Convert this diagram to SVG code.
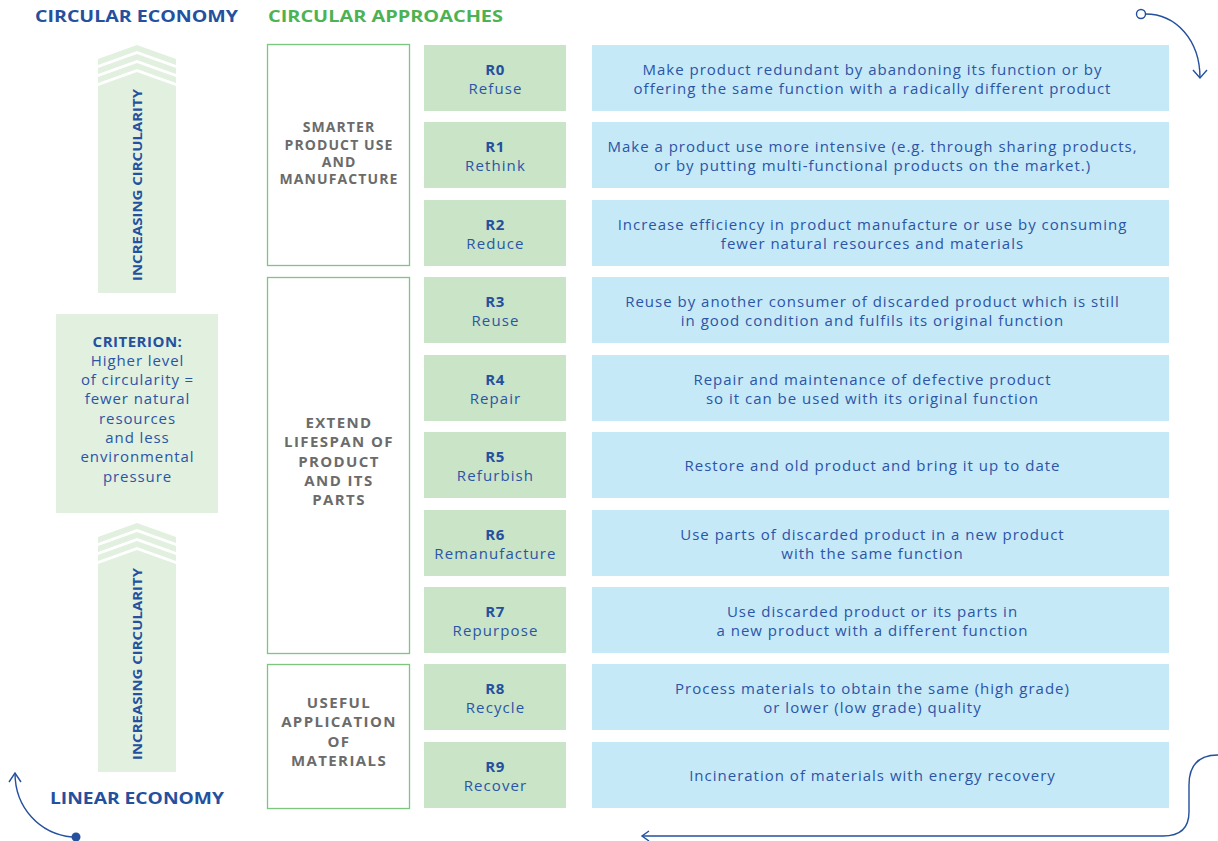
<svg xmlns="http://www.w3.org/2000/svg" width="1218" height="841" viewBox="0 0 1218 841">
<style>
.hd{font-family:"Open Sans","Liberation Sans",sans-serif;font-weight:700;font-size:16.5px}
.blue{fill:#24509e}
.green{fill:#4db352}
.vt{font-family:"Open Sans","Liberation Sans",sans-serif;font-weight:700;font-size:13px;fill:#24509e}
.chev{fill:#e1f0df}
.crit{font-family:"Open Sans","Liberation Sans",sans-serif;font-size:15px;letter-spacing:0.9px;fill:#2b55a6;text-anchor:middle}
.cat{fill:#fff;stroke:#7cc77e;stroke-width:1.3}
.catt{font-family:"Open Sans","Liberation Sans",sans-serif;font-weight:700;font-size:14px;letter-spacing:1.1px;fill:#6b6b6b;text-anchor:middle}
.catl{font-size:15px;letter-spacing:1.4px}
.rbox{fill:#c9e4c7}
.rid{font-family:"Open Sans","Liberation Sans",sans-serif;font-weight:700;font-size:15px;letter-spacing:0.5px;fill:#24509e;text-anchor:middle}
.rnm{font-family:"Open Sans","Liberation Sans",sans-serif;font-size:15px;letter-spacing:1.1px;fill:#2b55a6;text-anchor:middle}
.dbox{fill:#c6e9f8}
.dt{font-family:"Open Sans","Liberation Sans",sans-serif;font-size:15px;letter-spacing:1px;fill:#2b55a6;text-anchor:middle}
.conn{fill:none;stroke:#24509e;stroke-width:1.4}
</style>

<!-- headers -->
<g id="header-circular-economy"><text class="hd blue" x="35" y="22" textLength="203" lengthAdjust="spacingAndGlyphs">CIRCULAR ECONOMY</text></g>
<g id="header-circular-approaches"><text class="hd green" x="268" y="22" textLength="235" lengthAdjust="spacingAndGlyphs">CIRCULAR APPROACHES</text></g>
<g id="header-linear-economy"><text class="hd blue" x="50" y="804" textLength="174" lengthAdjust="spacingAndGlyphs">LINEAR ECONOMY</text></g>

<!-- top increasing arrow -->
<g id="arrow-top">
<polygon class="chev" points="98,59 137,45 176,59 176,65 137,51 98,65"/>
<polygon class="chev" points="98,68 137,54 176,68 176,74 137,60 98,74"/>
<polygon class="chev" points="98,77 137,63 176,77 176,83 137,69 98,83"/>
<polygon class="chev" points="98,86 137,72 176,86 176,293 98,293"/>
<text class="vt" transform="translate(142,185) rotate(-90)" text-anchor="middle" textLength="192" lengthAdjust="spacingAndGlyphs">INCREASING CIRCULARITY</text>
</g>

<!-- bottom increasing arrow -->
<g id="arrow-bottom">
<polygon class="chev" points="98,537 137,523 176,537 176,543 137,529 98,543"/>
<polygon class="chev" points="98,546 137,532 176,546 176,552 137,538 98,552"/>
<polygon class="chev" points="98,555 137,541 176,555 176,561 137,547 98,561"/>
<polygon class="chev" points="98,564 137,550 176,564 176,772 98,772"/>
<text class="vt" transform="translate(142,664) rotate(-90)" text-anchor="middle" textLength="192" lengthAdjust="spacingAndGlyphs">INCREASING CIRCULARITY</text>
</g>

<!-- criterion -->
<g id="criterion">
<rect class="chev" x="56" y="314" width="162" height="199"/>
<text class="crit" x="137.5" y="347" style="font-weight:700;fill:#24509e;letter-spacing:0.5px">CRITERION:</text>
<text class="crit" x="137.5" y="366">Higher level</text>
<text class="crit" x="137.5" y="385">of circularity =</text>
<text class="crit" x="137.5" y="404">fewer natural</text>
<text class="crit" x="137.5" y="424">resources</text>
<text class="crit" x="137.5" y="443">and less</text>
<text class="crit" x="137.5" y="462">environmental</text>
<text class="crit" x="137.5" y="482">pressure</text>
</g>

<!-- categories -->
<g id="cat-smarter">
<rect class="cat" x="267.5" y="44.5" width="142" height="221"/>
<text class="catt" x="339" y="132">SMARTER</text>
<text class="catt" x="339" y="150">PRODUCT USE</text>
<text class="catt" x="339" y="167">AND</text>
<text class="catt" x="339" y="184">MANUFACTURE</text>
</g>
<g id="cat-extend">
<rect class="cat" x="267.5" y="277.5" width="142" height="376"/>
<text class="catt catl" x="339" y="428">EXTEND</text>
<text class="catt catl" x="339" y="447">LIFESPAN OF</text>
<text class="catt catl" x="339" y="467">PRODUCT</text>
<text class="catt catl" x="339" y="486">AND ITS</text>
<text class="catt catl" x="339" y="505">PARTS</text>
</g>
<g id="cat-useful">
<rect class="cat" x="267.5" y="664.5" width="142" height="144"/>
<text class="catt catl" x="339" y="708">USEFUL</text>
<text class="catt catl" x="339" y="727">APPLICATION</text>
<text class="catt catl" x="339" y="747">OF</text>
<text class="catt catl" x="339" y="766">MATERIALS</text>
</g>

<!-- R rows -->
<g id="r0"><rect class="rbox" x="424" y="45" width="142" height="66"/><text class="rid" x="495" y="75">R0</text><text class="rnm" x="495.5" y="94">Refuse</text>
<rect class="dbox" x="592" y="45" width="577" height="66"/><text class="dt" x="872.5" y="75">Make product redundant by abandoning its function or by</text><text class="dt" x="872.5" y="94">offering the same function with a radically different product</text></g>
<g id="r1"><rect class="rbox" x="424" y="122" width="142" height="66"/><text class="rid" x="495" y="152">R1</text><text class="rnm" x="495.5" y="171">Rethink</text>
<rect class="dbox" x="592" y="122" width="577" height="66"/><text class="dt" x="872.5" y="152">Make a product use more intensive (e.g. through sharing products,</text><text class="dt" x="872.5" y="171">or by putting multi-functional products on the market.)</text></g>
<g id="r2"><rect class="rbox" x="424" y="200" width="142" height="66"/><text class="rid" x="495" y="230">R2</text><text class="rnm" x="495.5" y="249">Reduce</text>
<rect class="dbox" x="592" y="200" width="577" height="66"/><text class="dt" x="872.5" y="230">Increase efficiency in product manufacture or use by consuming</text><text class="dt" x="872.5" y="249">fewer natural resources and materials</text></g>
<g id="r3"><rect class="rbox" x="424" y="277" width="142" height="66"/><text class="rid" x="495" y="307">R3</text><text class="rnm" x="495.5" y="326">Reuse</text>
<rect class="dbox" x="592" y="277" width="577" height="66"/><text class="dt" x="872.5" y="307">Reuse by another consumer of discarded product which is still</text><text class="dt" x="872.5" y="326">in good condition and fulfils its original function</text></g>
<g id="r4"><rect class="rbox" x="424" y="355" width="142" height="66"/><text class="rid" x="495" y="385">R4</text><text class="rnm" x="495.5" y="404">Repair</text>
<rect class="dbox" x="592" y="355" width="577" height="66"/><text class="dt" x="872.5" y="385">Repair and maintenance of defective product</text><text class="dt" x="872.5" y="404">so it can be used with its original function</text></g>
<g id="r5"><rect class="rbox" x="424" y="432" width="142" height="66"/><text class="rid" x="495" y="462">R5</text><text class="rnm" x="495.5" y="481">Refurbish</text>
<rect class="dbox" x="592" y="432" width="577" height="66"/><text class="dt" x="872.5" y="471">Restore and old product and bring it up to date</text></g>
<g id="r6"><rect class="rbox" x="424" y="510" width="142" height="66"/><text class="rid" x="495" y="540">R6</text><text class="rnm" x="495.5" y="559">Remanufacture</text>
<rect class="dbox" x="592" y="510" width="577" height="66"/><text class="dt" x="872.5" y="540">Use parts of discarded product in a new product</text><text class="dt" x="872.5" y="559">with the same function</text></g>
<g id="r7"><rect class="rbox" x="424" y="587" width="142" height="66"/><text class="rid" x="495" y="617">R7</text><text class="rnm" x="495.5" y="636">Repurpose</text>
<rect class="dbox" x="592" y="587" width="577" height="66"/><text class="dt" x="872.5" y="617">Use discarded product or its parts in</text><text class="dt" x="872.5" y="636">a new product with a different function</text></g>
<g id="r8"><rect class="rbox" x="424" y="664" width="142" height="66"/><text class="rid" x="495" y="694">R8</text><text class="rnm" x="495.5" y="713">Recycle</text>
<rect class="dbox" x="592" y="664" width="577" height="66"/><text class="dt" x="872.5" y="694">Process materials to obtain the same (high grade)</text><text class="dt" x="872.5" y="713">or lower (low grade) quality</text></g>
<g id="r9"><rect class="rbox" x="424" y="742" width="142" height="66"/><text class="rid" x="495" y="772">R9</text><text class="rnm" x="495.5" y="791">Recover</text>
<rect class="dbox" x="592" y="742" width="577" height="66"/><text class="dt" x="872.5" y="781">Incineration of materials with energy recovery</text></g>

<!-- connectors -->
<g id="connectors">
<circle cx="1141" cy="14" r="4.5" fill="#fff" stroke="#24509e" stroke-width="1.4"/>
<path class="conn" d="M1145.5,14 C1176,14 1200,40 1200,78"/>
<path class="conn" d="M1193,70 L1200,78 L1207,70"/>
<circle cx="76" cy="837" r="4.5" fill="#24509e"/>
<path class="conn" d="M72,837 C40,834 15,808 15,773"/>
<path class="conn" d="M9,782 L15,773 L21,782"/>
<path class="conn" d="M1218,755 C1200,755 1189,764 1189,785 L1189,812 C1189,828 1180,836 1163,836 L642,836"/>
<path class="conn" d="M649,831 L642,836 L649,841"/>
</g>
</svg>
